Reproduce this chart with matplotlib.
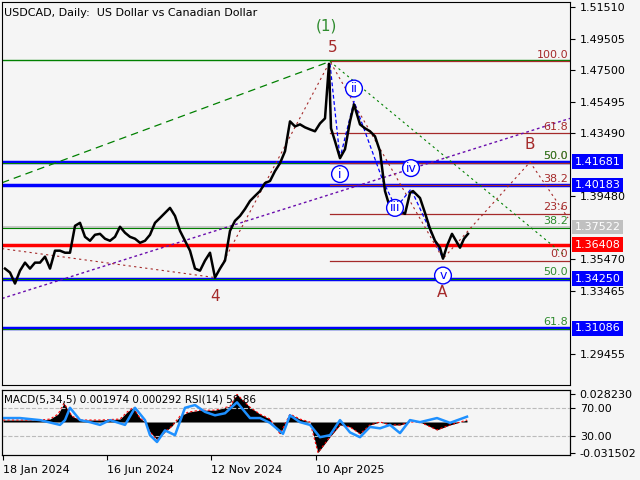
import matplotlib
matplotlib.use("Agg")
import matplotlib.pyplot as plt

# bar index (approx. one bar per pixel) and closes
bars = [5, 10, 15, 20, 25, 30, 35, 40, 45, 50, 55, 60, 65, 70, 75, 80, 85, 90, 95, 100,
        105, 110, 115, 120, 125, 130, 135, 140, 145, 150, 155, 160, 165, 170, 175, 180, 185, 190, 195, 200,
        205, 210, 215, 220, 225, 230, 235, 240, 245, 250, 255, 260, 265, 270, 275, 280, 285, 290, 295, 300,
        305, 310, 315, 320, 325, 329, 331, 335, 340, 345, 350, 354, 360, 365, 370, 375, 380, 385, 390, 395,
        400, 405, 410, 413, 420, 425, 430, 435, 440, 443, 447, 452, 456, 460, 464, 468]
closes = [1.3488, 1.3463, 1.3393, 1.3475, 1.3526, 1.3488, 1.3526, 1.3526, 1.3564, 1.3488, 1.3602, 1.3602,
          1.3589, 1.3589, 1.3760, 1.3779, 1.3690, 1.3665, 1.3703, 1.3709, 1.3678, 1.3665, 1.3690, 1.3754,
          1.3716, 1.3690, 1.3678, 1.3652, 1.3665, 1.3703, 1.3779, 1.3810, 1.3842, 1.3874, 1.3823, 1.3728,
          1.3665, 1.3602, 1.3488, 1.3475, 1.3539, 1.3589, 1.3431, 1.3488, 1.3539, 1.3728, 1.3792, 1.3823,
          1.3867, 1.3918, 1.3950, 1.3981, 1.4032, 1.4045, 1.4108, 1.4158, 1.4234, 1.4424, 1.4392, 1.4405,
          1.4386, 1.4373, 1.4361, 1.4411, 1.4443, 1.4790, 1.4380, 1.4298, 1.4190, 1.4247, 1.4424, 1.4532,
          1.4405, 1.4380, 1.4361, 1.4329, 1.4234, 1.3981, 1.3874, 1.3874, 1.3855, 1.3836, 1.3969, 1.3981,
          1.3937, 1.3842, 1.3741, 1.3665, 1.3621, 1.3551, 1.3633, 1.3709, 1.3665, 1.3621, 1.3678, 1.3709]

price_ticks = [1.51510, 1.49505, 1.47500, 1.45495, 1.43490, 1.39480, 1.35470, 1.33465, 1.29455]
levels = [1.41681, 1.40183, 1.37522, 1.36408, 1.34250, 1.31086]
level_colors = ["#0000ff", "#0000ff", "#c0c0c0", "#ff0000", "#0000ff", "#0000ff"]
fib_red = [("100.0", 1.4805), ("61.8", 1.4349), ("50.0", 1.4162), ("38.2", 1.4018), ("23.6", 1.3836), ("0.0", 1.3539)]
fib_green = [("50.0", 1.4165), ("38.2", 1.3752), ("50.0", 1.3425), ("61.8", 1.3109)]

date_pos = [3, 107, 211, 316]
date_labels = ["18 Jan 2024", "16 Jun 2024", "12 Nov 2024", "10 Apr 2025"]

rsi_x = [3, 20, 40, 60, 65, 70, 80, 90, 100, 110, 125, 135, 145, 150, 157, 165, 175, 185, 195, 205, 215, 225,
         237, 250, 260, 270, 283, 290, 300, 310, 320, 330, 340, 350, 360, 370, 380, 390, 400, 410, 420, 437, 450, 467]
rsi = [56, 56, 53, 46, 53, 71, 53, 50, 46, 53, 46, 71, 53, 31, 21, 38, 31, 71, 75, 65, 60, 63,
       79, 56, 56, 49, 33, 60, 50, 46, 28, 31, 53, 35, 28, 43, 41, 46, 34, 53, 50, 56, 49, 58]
macd_x = [3, 20, 40, 50, 58, 64, 72, 80, 100, 120, 127, 133, 140, 145, 150, 157, 165, 172, 180, 188, 200, 215,
          230, 237, 250, 260, 270, 280, 290, 300, 310, 318, 330, 340, 350, 360, 370, 380, 390, 400, 410, 420, 437, 450, 467]
macd = [0.002, 0.002, 0.002, 0.003, 0.008, 0.019, 0.006, 0.002, 0.002, 0.003, 0.010, 0.015, 0.004, 0.0, -0.010,
        -0.018, -0.010, -0.004, 0.006, 0.010, 0.012, 0.012, 0.016, 0.028, 0.015, 0.008, 0.003, -0.012, 0.008,
        0.003, 0.0, -0.031, -0.015, -0.003, -0.005, -0.012, -0.003, 0.0, -0.003, -0.003, 0.0, 0.0, -0.008, -0.003, 0.002]

bg = "#f5f5f5"
fig = plt.figure(figsize=(6.4, 4.8), dpi=100, facecolor=bg)
ax = fig.add_axes([2/640, 1 - 385/480, 568/640, 383/480], facecolor=bg)
ax.set_xlim(2, 570)
ax.set_ylim(1.2748, 1.5183)

ax.axhline(1.4816, color="#008000", lw=1)
for lv, c in zip(levels, level_colors):
    ax.axhline(lv, color=c, lw=2.5 if c != "#c0c0c0" else 1.2)
for _, v in fib_green:
    ax.axhline(v - 0.0004, color="#008000", lw=0.8)
for lab, v in fib_red:
    ax.plot([330, 570], [v, v], color="#a52a2a", lw=0.9)
    ax.text(568, v + 0.001, lab, color="#a52a2a", ha="right", va="bottom", fontsize=8)
for lab, v in fib_green:
    ax.text(568, v + 0.001, lab, color="#2e8b2e", ha="right", va="bottom", fontsize=8)

ax.plot([2, 330], [1.4034, 1.4805], color="#008000", lw=0.9, ls=(0, (6, 4)))
ax.plot([330, 565], [1.4805, 1.3570], color="#008000", lw=0.8, ls=(0, (2, 3)))
ax.plot([2, 570], [1.3298, 1.4443], color="#6a0dad", lw=1, ls=(0, (2, 2)))
ax.plot([2, 215, 330, 443, 530, 568], [1.3615, 1.3431, 1.4805, 1.3551, 1.4165, 1.3810],
        color="#a52a2a", lw=0.8, ls=(0, (2, 3)))
ax.plot([330, 340, 354, 383, 396, 411, 443], [1.4790, 1.4190, 1.4551, 1.4045, 1.3874, 1.3994, 1.3551],
        color="#0000ff", lw=0.9, ls=(0, (3, 2)))

ax.plot(bars, closes, color="black", lw=1.8)

ax.text(326, 1.5031, "(1)", color="#2e8b2e", ha="center", va="center", fontsize=11)
ax.text(333, 1.4892, "5", color="#a52a2a", ha="center", va="center", fontsize=11)
ax.text(215, 1.3311, "4", color="#a52a2a", ha="center", va="center", fontsize=11)
ax.text(442, 1.3336, "A", color="#a52a2a", ha="center", va="center", fontsize=11)
ax.text(530, 1.4279, "B", color="#a52a2a", ha="center", va="center", fontsize=11)
for lab, x, y in [("i", 340, 1.4089), ("ii", 354, 1.4633), ("iii", 395, 1.3874), ("iv", 411, 1.4127), ("v", 443, 1.3444)]:
    ax.text(x, y, lab, color="#0000ff", ha="center", va="center", fontsize=9,
            bbox=dict(boxstyle="circle,pad=0.15", fc="white", ec="#0000ff", lw=1))
ax.text(4, 1.5110, "USDCAD, Daily:  US Dollar vs Canadian Dollar", fontsize=8, va="center")

ax.yaxis.tick_right()
ax.set_yticks(price_ticks)
ax.set_yticklabels(["%.5f" % v for v in price_ticks], fontsize=8)
ax.set_xticks([])
for lv, c in zip(levels, level_colors):
    ax.text(1.008, lv, "%.5f" % lv, transform=ax.get_yaxis_transform(), color="white", fontsize=8,
            va="center", ha="left", bbox=dict(boxstyle="square,pad=0.2", fc=c, ec="none"))

# indicator panel: MACD histogram + RSI on a twin scale
ax2 = fig.add_axes([2/640, 1 - 455/480, 568/640, 65/480], facecolor=bg)
ax2.set_xlim(2, 570)
ax2.set_ylim(-0.0335, 0.0325)
ax3 = ax2.twinx()
ax3.set_ylim(2, 97)
ax3.axhline(70, color="#bbbbbb", lw=0.8, ls="--")
ax3.axhline(30, color="#bbbbbb", lw=0.8, ls="--")
ax2.fill_between(macd_x, macd, 0, color="black", lw=0)
ax2.plot(macd_x, macd, color="red", lw=0.8, ls=(0, (2, 2)))
ax3.plot(rsi_x, rsi, color="#1e90ff", lw=1.8)
ax3.set_yticks([70, 30])
ax3.set_yticklabels(["70.00", "30.00"], fontsize=8)
ax2.yaxis.tick_right()
ax2.set_yticks([0.028230, -0.031502])
ax2.set_yticklabels(["0.028230", "-0.031502"], fontsize=8)
ax2.text(4, 0.0225, "MACD(5,34,5) 0.001974 0.000292 RSI(14) 58.86", fontsize=7.5, va="center", zorder=5)
ax2.set_xticks(date_pos)
ax2.set_xticklabels(date_labels, fontsize=8, ha="left")

fig.savefig("out.png", dpi=100, facecolor=bg)
